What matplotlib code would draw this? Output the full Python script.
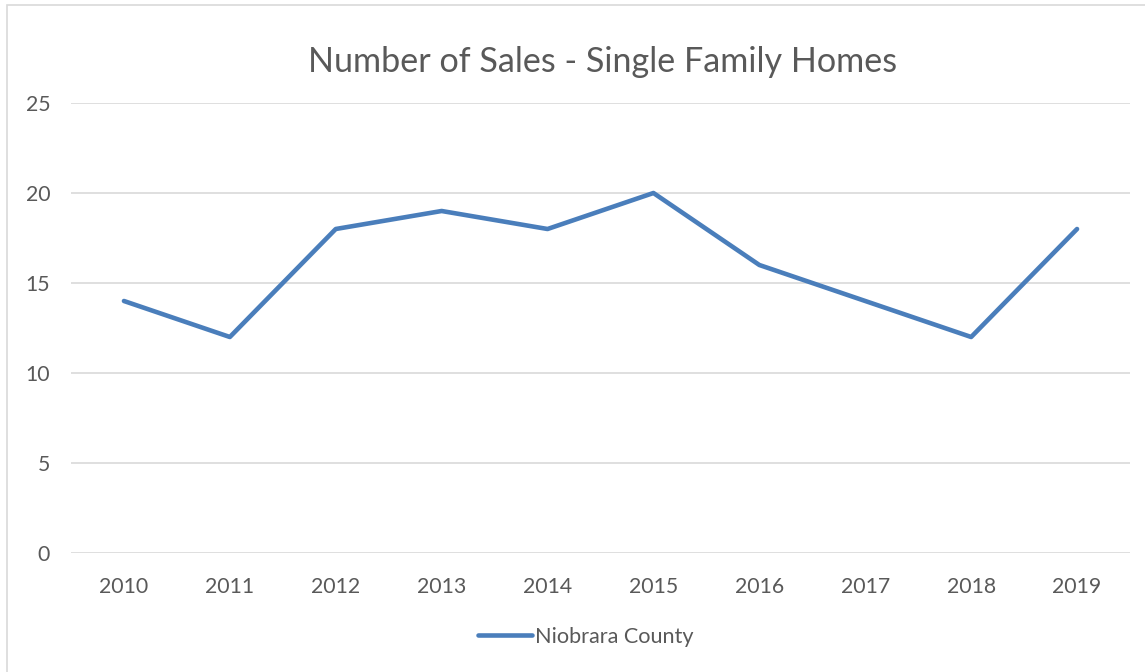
import matplotlib
matplotlib.use("Agg")
import matplotlib.pyplot as plt
from matplotlib.patches import Rectangle

years = ["2010", "2011", "2012", "2013", "2014", "2015", "2016", "2017", "2018", "2019"]
sales = [14, 12, 18, 19, 18, 20, 16, 14, 12, 18]
series_name = "Niobrara County"
title = "Number of Sales - Single Family Homes"
yticks = [0, 5, 10, 15, 20, 25]

plt.rcParams['font.family'] = ['Lato', 'DejaVu Sans']
text_color = "#595959"
grid_color = "#d9d9d9"
line_color = "#4a7ebb"

fig = plt.figure(figsize=(11.45, 6.72), dpi=100)
fig.patches.append(Rectangle((7/1145, -0.01), 1.02, 1 - 5/672 + 0.01, transform=fig.transFigure,
                             fill=False, edgecolor=grid_color, linewidth=1.2))
ax = fig.add_axes([71/1145, 1 - 553/672, (1130 - 71)/1145, (553 - 103)/672])

x = list(range(len(years)))
ax.plot(x, sales, color=line_color, linewidth=3.3, solid_capstyle='round', solid_joinstyle='round',
        label=series_name, zorder=3)
ax.set_xlim(-0.5, len(years) - 0.5)
ax.set_ylim(0, 25)
ax.set_yticks(yticks)
ax.set_xticks(x)
ax.set_xticklabels(years)
ax.grid(axis='y', color=grid_color, linewidth=1.2)
ax.set_axisbelow(True)
for s in ax.spines.values():
    s.set_visible(False)
ax.tick_params(axis='both', length=0, colors=text_color, labelsize=15.3)
ax.tick_params(axis='x', pad=17)
ax.tick_params(axis='y', pad=15)

fig.text(603/1145, 1 - 62/672, title, ha='center', va='center', fontsize=24.6, color=text_color)

leg = fig.legend(loc='center', bbox_to_anchor=(586/1145, 1 - 637/672), frameon=False,
                 fontsize=15.6, handlelength=2.5, handletextpad=0.15)
for t in leg.get_texts():
    t.set_color(text_color)

fig.savefig("out.png", dpi=100)
